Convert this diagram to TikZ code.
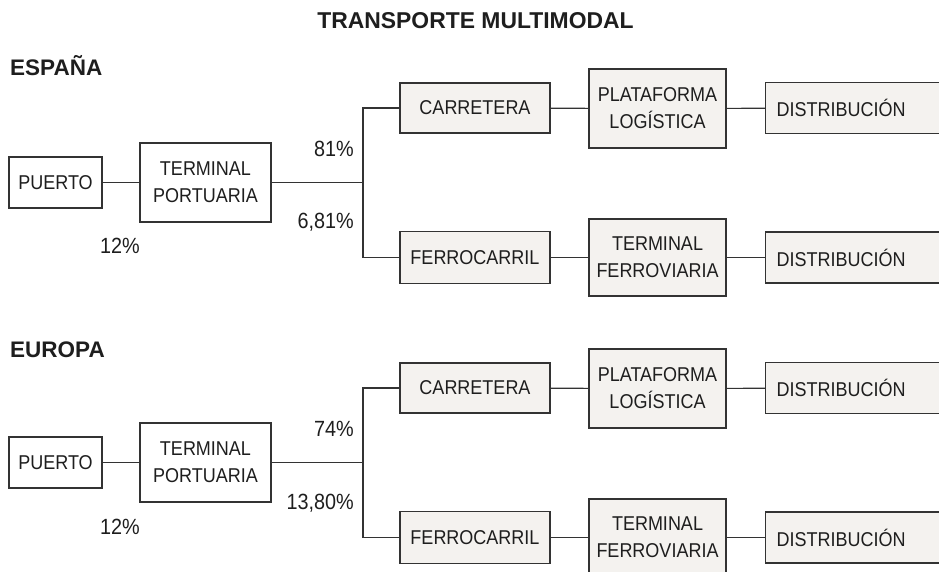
\documentclass[tikz,border=0pt]{standalone}
\usepackage{fontspec}
\setmainfont{Liberation Sans}
\newfontfamily\boxfont[FakeStretch=0.9]{Liberation Sans}
\definecolor{boxfill}{HTML}{F4F2EF}
\definecolor{edge}{HTML}{333333}
\definecolor{ink}{HTML}{1E1E1E}
\begin{document}
\begin{tikzpicture}[x=1pt,y=-1pt,
  every node/.style={text=ink},
  wbox/.style={draw=edge,line width=1.1pt,fill=white,inner sep=0pt,align=center,
     font=\boxfont\fontsize{20}{27}\selectfont},
  gbox/.style={wbox,fill=boxfill},
  dbox/.style={gbox,anchor=west,text width=185pt,align=left,inner xsep=11pt,minimum height=51pt},
  conn/.style={draw=edge,line width=1.1pt},
  pct/.style={inner sep=0pt,font=\boxfont\fontsize{22}{26}\selectfont},
  head/.style={inner sep=0pt,font=\bfseries\fontsize{22.5}{26}\selectfont}]
\useasboundingbox (0,0) rectangle (939,572);
\clip (0,0) rectangle (939,572);

\node[head,anchor=base,font=\bfseries\fontsize{22.9}{26}\selectfont] (title) at (475.5,29) {TRANSPORTE MULTIMODAL};

% ---------- ESPAÑA ----------
\node[head,anchor=base west] (hES) at (10,76) {ESPAÑA};
\node[wbox,minimum width=93pt,minimum height=51pt] (p1) at (55.5,182.5) {PUERTO};
\node[wbox,minimum width=131pt,minimum height=79pt] (tp1) at (205.5,182.5) {TERMINAL\\PORTUARIA};
\coordinate (j1) at (363,182.5);
\node[gbox,minimum width=150pt,minimum height=50pt] (car1) at (475,108) {CARRETERA};
\node[gbox,minimum width=137pt,minimum height=79pt] (pla1) at (657.5,108.5) {PLATAFORMA\\LOGÍSTICA};
\node[dbox] (dis1) at (765,108) {DISTRIBUCIÓN};
\node[gbox,minimum width=150pt,minimum height=52pt] (fer1) at (475,257.5) {FERROCARRIL};
\node[gbox,minimum width=137pt,minimum height=77pt] (tf1) at (657.5,257.5) {TERMINAL\\FERROVIARIA};
\node[dbox] (dis1b) at (765,257.5) {DISTRIBUCIÓN};

\draw[conn] (p1) -- (tp1);
\draw[conn] (tp1) -- (j1);
\draw[conn] (car1.west) -| (j1) |- (fer1.west);
\draw[conn] (car1) -- (pla1);
\draw[conn] (pla1) -- (dis1);
\draw[conn] (fer1) -- (tf1);
\draw[conn] (tf1) -- (dis1b);

\node[pct,anchor=east] (a1) at (354,149) {81\%};
\node[pct,anchor=east] (b1) at (354,222) {6,81\%};
\node[pct] (c1) at (120,246) {12\%};

% ---------- EUROPA ----------
\node[head,anchor=base west] (hEU) at (10,357) {EUROPA};
\node[wbox,minimum width=93pt,minimum height=51pt] (p2) at (55.5,462.5) {PUERTO};
\node[wbox,minimum width=131pt,minimum height=79pt] (tp2) at (205.5,462.5) {TERMINAL\\PORTUARIA};
\coordinate (j2) at (363,462.5);
\node[gbox,minimum width=150pt,minimum height=50pt] (car2) at (475,388) {CARRETERA};
\node[gbox,minimum width=137pt,minimum height=79pt] (pla2) at (657.5,388.5) {PLATAFORMA\\LOGÍSTICA};
\node[dbox] (dis2) at (765,388) {DISTRIBUCIÓN};
\node[gbox,minimum width=150pt,minimum height=52pt] (fer2) at (475,537.5) {FERROCARRIL};
\node[gbox,minimum width=137pt,minimum height=77pt] (tf2) at (657.5,537.5) {TERMINAL\\FERROVIARIA};
\node[dbox] (dis2b) at (765,537.5) {DISTRIBUCIÓN};

\draw[conn] (p2) -- (tp2);
\draw[conn] (tp2) -- (j2);
\draw[conn] (car2.west) -| (j2) |- (fer2.west);
\draw[conn] (car2) -- (pla2);
\draw[conn] (pla2) -- (dis2);
\draw[conn] (fer2) -- (tf2);
\draw[conn] (tf2) -- (dis2b);

\node[pct,anchor=east] (a2) at (354,429) {74\%};
\node[pct,anchor=east] (b2) at (354,503) {13,80\%};
\node[pct] (c2) at (120,527) {12\%};
\end{tikzpicture}
\end{document}
